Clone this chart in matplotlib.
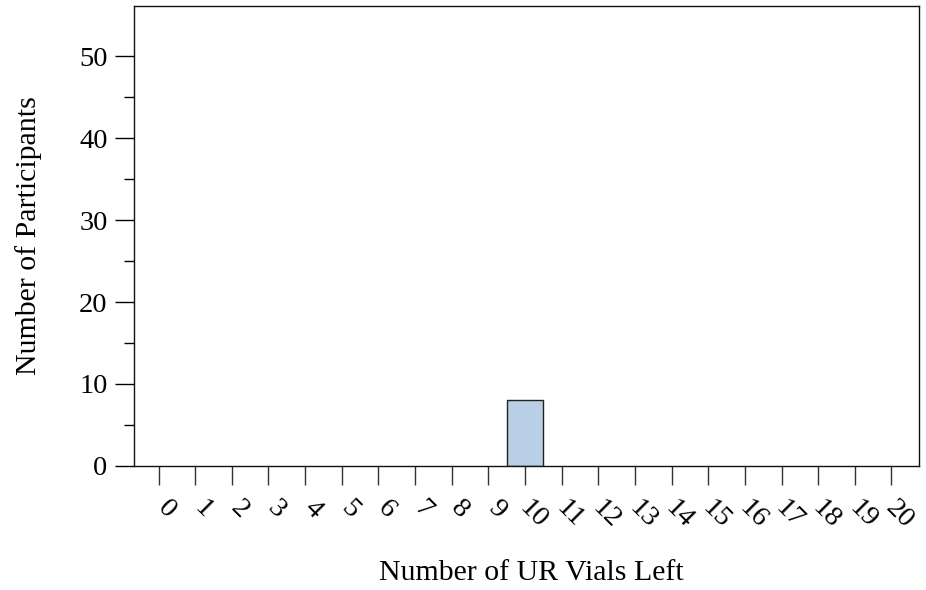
import matplotlib
matplotlib.use("Agg")
import matplotlib.pyplot as plt
from matplotlib.ticker import FixedLocator
import matplotlib.transforms as mtransforms

vials_left = list(range(0, 21))
participants = [0, 0, 0, 0, 0, 0, 0, 0, 0, 0, 8, 0, 0, 0, 0, 0, 0, 0, 0, 0, 0]
tick_labels = [str(v) for v in vials_left]
y_major = [0, 10, 20, 30, 40, 50]
y_minor = [5, 15, 25, 35, 45]

plt.rcParams["font.family"] = ["Liberation Serif", "DejaVu Serif"]

fig = plt.figure(figsize=(9.26, 5.90), dpi=100)
ax = fig.add_axes([0.1447, 0.2102, 0.8477, 0.7796])

nonzero = [(x, y) for x, y in zip(vials_left, participants) if y > 0]
ax.bar([x for x, _ in nonzero], [y for _, y in nonzero], width=1.0,
       color="#b8cfe6", edgecolor="#222222", linewidth=1.0)

ax.set_xlim(-0.67, 20.75)
ax.set_ylim(0, 56.1)

ax.yaxis.set_major_locator(FixedLocator(y_major))
ax.yaxis.set_minor_locator(FixedLocator(y_minor))
ax.tick_params(axis="y", which="major", direction="out", length=14, width=1,
               labelsize=20.5, pad=5)
ax.tick_params(axis="y", which="minor", direction="out", length=7, width=1)

ax.set_xticks(vials_left)
ax.set_xticklabels(tick_labels, rotation=-45, ha="center", va="top",
                   fontsize=20.5)
ax.tick_params(axis="x", which="major", direction="out", length=14, width=1,
               pad=7, color="#333333")
shift = mtransforms.ScaledTranslation(8 / 100, 0, fig.dpi_scale_trans)
for lbl in ax.get_xticklabels():
    lbl.set_transform(lbl.get_transform() + shift)

for s in ax.spines.values():
    s.set_linewidth(1.0)
    s.set_color("#111111")

ax.set_xlabel("Number of UR Vials Left", fontsize=21.5)
ax.xaxis.set_label_coords(0.506, -0.248)
ax.xaxis.label.set_va("baseline")
ax.set_ylabel("Number of Participants", fontsize=21.5)
ax.yaxis.set_label_coords(-0.117, 0.5)

fig.savefig("out.png", dpi=100, facecolor="white")
